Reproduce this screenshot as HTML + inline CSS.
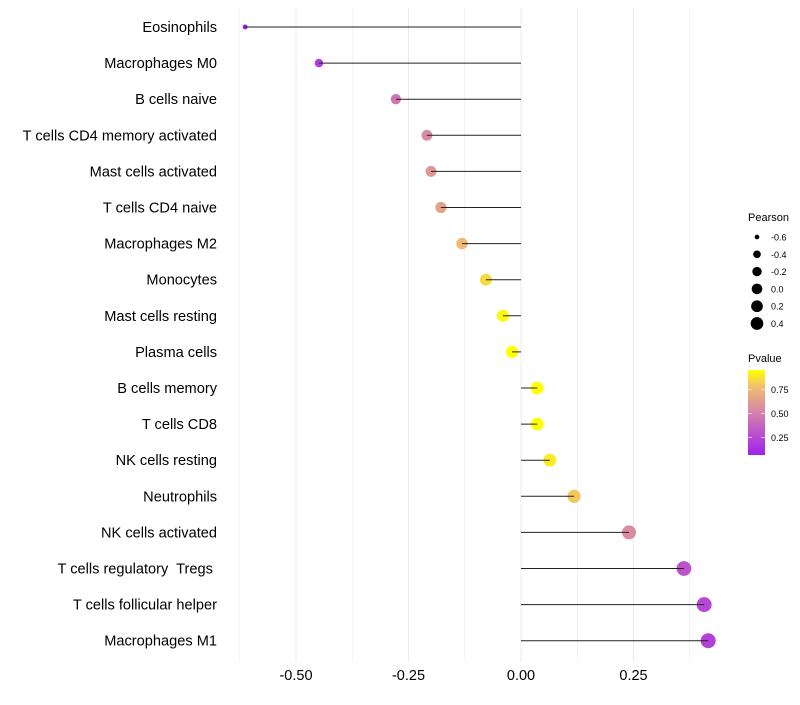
<!DOCTYPE html>
<html><head><meta charset="utf-8"><style>
body{margin:0;background:#fff;font-family:"Liberation Sans",sans-serif}
text{white-space:pre}
</style></head><body>
<svg id="c" width="800" height="700" xmlns="http://www.w3.org/2000/svg"></svg>
<script>
const cells=["Eosinophils","Macrophages M0","B cells naive","T cells CD4 memory activated","Mast cells activated","T cells CD4 naive","Macrophages M2","Monocytes","Mast cells resting","Plasma cells","B cells memory","T cells CD8","NK cells resting","Neutrophils","NK cells activated","T cells regulatory  Tregs ","T cells follicular helper","Macrophages M1"];
const pearson=[-0.613,-0.449,-0.278,-0.209,-0.2,-0.178,-0.131,-0.078,-0.04,-0.02,0.036,0.036,0.064,0.118,0.24,0.362,0.407,0.416];
const pvalue=[0.07,0.2,0.45,0.55,0.6,0.65,0.75,0.85,0.93,0.95,0.96,0.96,0.9,0.8,0.55,0.3,0.25,0.22];
const xTicks=[-0.5,-0.25,0,0.25];
const xTickLabels=["-0.50","-0.25","0.00","0.25"];
const sizeLegend=[-0.6,-0.4,-0.2,0.0,0.2,0.4];
const sizeLegendLabels=["-0.6","-0.4","-0.2","0.0","0.2","0.4"];
const pTicks=[0.25,0.5,0.75];
const pTickLabels=["0.25","0.50","0.75"];
const NS="http://www.w3.org/2000/svg",svg=document.getElementById('c');
const x=v=>521+v*450;
const y=i=>27+i*36.1;
const r=v=>2+5.5*Math.sqrt(Math.max(0,v+0.62)/1.04);
const pmin=0.07,pmax=0.95;
const stops=[[0,[160,32,240]],[0.5,[214,130,170]],[0.8,[240,190,110]],[1,[255,255,0]]];
function col(p){let t=(p-pmin)/(pmax-pmin);t=Math.max(0,Math.min(1,t));for(let k=1;k<stops.length;k++){if(t<=stops[k][0]){const a=stops[k-1],b=stops[k],f=(t-a[0])/(b[0]-a[0]);return 'rgb('+a[1].map((c,j)=>Math.round(c+(b[1][j]-c)*f)).join(',')+')';}}return 'rgb(255,255,0)';}
function el(t,a,txt){const e=document.createElementNS(NS,t);for(const k in a)e.setAttribute(k,a[k]);if(txt!=null)e.textContent=txt;svg.appendChild(e);return e;}
for(let g=-0.625;g<=0.4;g+=0.125){const e=el('line',{x1:x(g),x2:x(g),y1:8,y2:662,stroke:'#ebebeb','stroke-width':Math.abs(g*4-Math.round(g*4))<1e-6?1:0.6});

}
xTicks.forEach((t,i)=>{const e=el('text',{x:x(t),y:680,'text-anchor':'middle','font-size':14.5,fill:'#000'},xTickLabels[i]);

});
cells.forEach((c,i)=>{
const lb=el('text',{x:217,y:y(i)+5,'text-anchor':'end','font-size':14.6,fill:'#000'},c);


const pt=el('circle',{cx:x(pearson[i]),cy:y(i),r:r(pearson[i]),fill:col(pvalue[i])});


const ln=el('line',{x1:x(0),x2:x(pearson[i]),y1:y(i),y2:y(i),stroke:'#222','stroke-width':1});


});
const st=el('text',{x:748,y:221,'font-size':11},'Pearson');


sizeLegend.forEach((v,i)=>{const cy=237+i*17.3;
const c=el('circle',{cx:757,cy:cy,r:Math.max(2,r(v)*0.85),fill:'#000'});


const t=el('text',{x:771,y:cy+3.5,'font-size':9},sizeLegendLabels[i]);

});
const pt2=el('text',{x:748,y:362,'font-size':11},'Pvalue');


const defs=el('defs',{});const lg=document.createElementNS(NS,'linearGradient');lg.setAttribute('id','g');lg.setAttribute('x1',0);lg.setAttribute('x2',0);lg.setAttribute('y1',1);lg.setAttribute('y2',0);defs.appendChild(lg);
for(let k=0;k<=10;k++){const s=document.createElementNS(NS,'stop');s.setAttribute('offset',k/10);s.setAttribute('stop-color',col(pmin+(pmax-pmin)*k/10));lg.appendChild(s);}
const py=p=>455-(p-pmin)/(pmax-pmin)*85;
const bar=el('rect',{x:748,y:370,width:17,height:85,fill:'url(#g)'});


pTicks.forEach((p,i)=>{el('line',{x1:748,x2:752,y1:py(p),y2:py(p),stroke:'#fff','stroke-width':0.6});el('line',{x1:761,x2:765,y1:py(p),y2:py(p),stroke:'#fff','stroke-width':0.6});
const t=el('text',{x:771,y:py(p)+3.5,'font-size':9},pTickLabels[i]);

});
</script>
</body></html>
